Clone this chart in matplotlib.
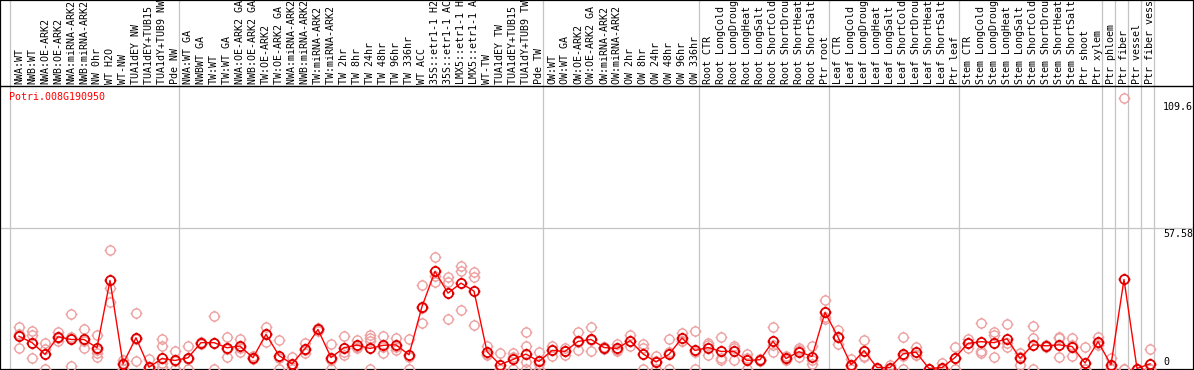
import matplotlib
matplotlib.use("Agg")
import matplotlib.pyplot as plt
from matplotlib.path import Path
import numpy as np

labels = [
    "NWA:WT", "NWB:WT", "NWA:OE-ARK2", "NWB:OE-ARK2", "NWA:miRNA-ARK2", "NWB:miRNA-ARK2",
    "NW 0hr", "WT H2O", "WT-NW", "TUA1dEY NW", "TUA1dEY+TUB15 NW", "TUA1dY+TUB9 NW", "Pde NW",
    "NWA:WT GA", "NWBWT GA", "TW:WT", "TW:WT GA", "NWA:OE-ARK2 GA", "NWB:OE-ARK2 GA",
    "TW:OE-ARK2", "TW:OE-ARK2 GA", "NWA:miRNA-ARK2 GA", "NWB:miRNA-ARK2 GA", "TW:miRNA-ARK2",
    "TW:miRNA-ARK2 GA", "TW 2hr", "TW 8hr", "TW 24hr", "TW 48hr", "TW 96hr", "TW 336hr", "WT ACC",
    "35S::etr1-1 H2O", "35S::etr1-1 ACC", "LMX5::etr1-1 H2O", "LMX5::etr1-1 ACC", "WT-TW",
    "TUA1dEY TW", "TUA1dEY+TUB15 TW", "TUA1dY+TUB9 TW", "Pde TW",
    "OW:WT", "OW:WT GA", "OW:OE-ARK2", "OW:OE-ARK2 GA", "OW:miRNA-ARK2", "OW:miRNA-ARK2 GA",
    "OW 2hr", "OW 8hr", "OW 24hr", "OW 48hr", "OW 96hr", "OW 336hr",
    "Root CTR", "Root LongCold", "Root LongDrought", "Root LongHeat", "Root LongSalt",
    "Root ShortCold", "Root ShortDrought", "Root ShortHeat", "Root ShortSalt", "Ptr root",
    "Leaf CTR", "Leaf LongCold", "Leaf LongDrought", "Leaf LongHeat", "Leaf LongSalt",
    "Leaf ShortCold", "Leaf ShortDrought", "Leaf ShortHeat", "Leaf ShortSalt", "Ptr leaf",
    "Stem CTR", "Stem LongCold", "Stem LongDrought", "Stem LongHeat", "Stem LongSalt",
    "Stem ShortCold", "Stem ShortDrought", "Stem ShortHeat", "Stem ShortSalt", "Ptr shoot",
    "Ptr xylem", "Ptr phloem", "Ptr fiber", "Ptr vessel", "Ptr fiber vessel",
]

means = [
    13.2, 10.6, 5.8, 13.0, 11.9, 11.9, 8.5, 36.1, 1.9, 12.6, 0.5, 4.1, 3.3, 4.4, 10.6, 10.6, 8.5, 9.2, 4.4, 14.0, 5.3, 1.9,
    8.1, 16.0, 4.5, 8.5, 9.6, 8.2, 9.5, 9.7, 5.6, 25.4, 39.8, 30.9, 35.0, 31.7, 6.9, 1.6, 3.7, 5.9, 2.9, 7.4, 7.0, 11.1, 11.9,
    8.6, 8.2, 11.4, 6.0, 2.7, 5.8, 12.5, 7.4, 8.6, 7.0, 7.0, 3.3, 3.6, 11.1, 4.1, 6.9, 4.9, 23.0, 12.9, 1.6, 7.3, 0.4, 0.4,
    6.0, 6.7, 0.0, 0.4, 4.5, 10.3, 11.0, 10.6, 12.2, 4.2, 9.7, 9.3, 9.7, 9.0, 2.3, 11.0, 1.5, 36.5, 0.0, 1.9,
]

replicates = [
    [17.0, 14.2, 8.4], [15.5, 13.7, 4.3], [10.4, 7.9, 0.0], [15.1, 12.5, 11.4], [22.3, 12.8, 1.0],
    [16.1, 11.3, 8.3], [13.8, 7.6, 6.2, 4.9], [48.6, 33.0, 27.1], [3.5, 2.2, 0.0], [22.7, 12.1, 3.0],
    [3.8, 0.7, 0.0], [12.1, 9.4, 2.1, 0.7], [7.2, 3.0, 0.0], [9.3, 3.9, 0.0], [11.0, 10.6, 10.2],
    [21.5, 10.3, 0.0], [13.0, 8.0, 4.6], [12.1, 8.6, 6.9], [5.0, 4.4, 3.8], [17.0, 14.2, 10.8],
    [11.7, 4.2, 0.0], [4.9, 0.8, 0.0], [10.4, 7.6, 6.3], [16.6, 16.0, 15.4], [10.0, 3.5, 0.0],
    [13.4, 6.9, 5.6], [11.7, 8.8, 8.3], [13.8, 12.4, 11.4, 0.0], [13.4, 9.0, 6.3], [12.7, 8.8, 7.6],
    [12.1, 4.7, 0.0], [34.4, 24.8, 18.6], [45.9, 38.0, 35.5], [37.5, 35.6, 20.4], [41.9, 39.8, 24.1],
    [39.4, 37.5, 17.8], [9.3, 5.8, 5.6], [6.3, 0.0, 0.0], [6.5, 4.9, 0.0], [15.0, 9.3, 2.8, 0.0],
    [6.7, 2.0, 0.0], [9.4, 7.5, 5.3], [8.3, 7.0, 5.6], [15.0, 10.7, 7.6], [17.0, 11.5, 7.2],
    [9.0, 8.8, 7.9], [10.0, 7.4, 7.2], [13.7, 11.2, 9.3], [10.0, 8.6, 0.0], [5.1, 3.0, 0.0],
    [12.1, 6.9, 0.0], [14.7, 11.4, 11.4], [15.4, 6.8, 0.0], [10.6, 9.6, 5.6], [13.0, 4.4, 3.6],
    [9.3, 8.2, 3.5], [5.8, 4.1, 0.0], [4.0, 3.6, 3.2], [17.0, 9.6, 6.7], [5.1, 3.7, 3.5],
    [8.3, 7.5, 4.9], [9.3, 3.5, 1.9], [28.2, 21.3, 20.2], [15.8, 12.9, 10.0], [3.8, 1.0, 0.0],
    [11.7, 5.3, 4.9], [0.0, 0.0, 0.0], [1.4, 0.0, 0.0], [13.1, 5.0, 0.0], [9.0, 5.5, 5.6],
    [0.0, 0.0, 0.0], [2.1, 0.0, 0.0], [9.0, 4.5, 0.0], [12.0, 10.6, 8.3], [18.8, 7.3, 6.5],
    [15.1, 13.8, 4.6], [18.3, 10.4, 9.0], [6.5, 4.7, 1.4], [17.5, 12.4, 0.0], [9.6, 9.3, 9.0],
    [13.1, 12.4, 4.6], [12.4, 9.5, 5.1], [8.7, 0.0, 0.0], [12.8, 10.5, 9.7], [4.2, 0.3, 0.0],
    [111.0, 0.0, 0.0], [0.0, 0.0, 0.0], [8.0, 0.0, 0.0],
]

group_starts = [0, 13, 41, 53, 63, 73, 84, 85, 86, 87, 88]
gene = "Potri.008G190950"
yticks = [109.6, 57.58, 0]

W, H = 1194, 370
PX0, PXS = 19.0, 13.0          # pixel x of first point, pixel step
Y0, YS = 368.5, 2.44           # pixel y of value 0, pixels per unit

def vx(px):
    return (px - PX0) / PXS

def vy(py):
    return (Y0 - py) / YS

# circle marker with four short outer ticks
t = np.linspace(0, 2 * np.pi, 33)
verts = [(np.cos(a), np.sin(a)) for a in t]
codes = [Path.MOVETO] + [Path.LINETO] * (len(t) - 1)
for (dx, dy) in [(0, 1), (0, -1), (1, 0), (-1, 0)]:
    verts += [(dx * 1.0, dy * 1.0), (dx * 1.3, dy * 1.3)]
    codes += [Path.MOVETO, Path.LINETO]
tick_circle = Path(verts, codes)

mono = "DejaVu Sans Mono"
fs = 7.2

fig = plt.figure(figsize=(W / 100, H / 100), dpi=100)
ax = fig.add_axes([0, 0, 1, 1])
ax.set_xlim(vx(0), vx(W))
ax.set_ylim(vy(H), vy(0))
ax.set_xticks([])
ax.set_yticks([])
for s in ax.spines.values():
    s.set_color("black")
    s.set_linewidth(1.6)

grid_c = "#c4c4c4"
for k in group_starts:
    ax.axvline(k - 9 / 13, color=grid_c, lw=0.9, zorder=1)
ax.axhline(yticks[1], color=grid_c, lw=0.9, zorder=1)
ax.axhline(vy(86), color="black", lw=1.0, zorder=2)

xs = list(range(len(means)))
for i, reps in enumerate(replicates):
    ax.plot([i] * len(reps), reps, linestyle="none", marker=tick_circle, ms=8.5,
            mfc="none", mec="#eda0a0", mew=1.0, zorder=3, clip_on=False)

ax.plot(xs, means, color="#ff0000", lw=1.0, zorder=4)
ax.plot(xs, means, linestyle="none", marker=tick_circle, ms=8.5, mfc="none",
        mec="#e00000", mew=1.3, zorder=5)

for i, lab in enumerate(labels):
    ax.text(i, vy(84), lab, rotation=90, ha="center", va="bottom",
            fontsize=fs, family=mono, color="black", clip_on=True)

ax.text(vx(9), vy(97), gene, ha="left", va="center", fontsize=fs,
        family=mono, color="#ff0000")

label_y = {109.6: 107, 57.58: 234, 0: 362}
for tv in yticks:
    ax.text(vx(1163), vy(label_y[tv]), f"{tv:g}", ha="left", va="center",
            fontsize=fs, family=mono, color="black", clip_on=True)

fig.savefig("out.png", dpi=100)
